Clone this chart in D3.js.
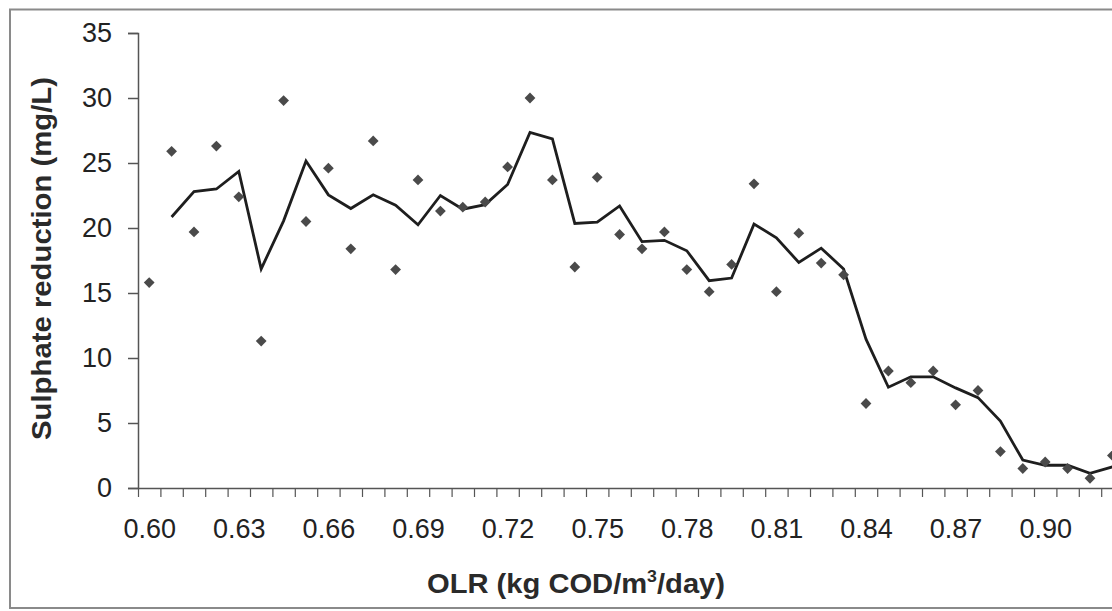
<!DOCTYPE html>
<html>
<head>
<meta charset="utf-8">
<script src="https://cdn.jsdelivr.net/npm/d3@7"></script>
<style>
  html, body { margin: 0; padding: 0; background: #fff; overflow: hidden; }
  svg { display: block; font-family: Arial, "Liberation Sans", sans-serif; }
</style>
</head>
<body>
<svg id="chart" width="1112" height="611"></svg>
<script>
// Organic loading rate for each sample (kg COD/m3/day)
const olr = [
  0.6000, 0.6075, 0.6150, 0.6225, 0.6300, 0.6375, 0.6450, 0.6525, 0.6600, 0.6675, 0.6750,
  0.6825, 0.6900, 0.6975, 0.7050, 0.7125, 0.7200, 0.7275, 0.7350, 0.7425, 0.7500, 0.7575,
  0.7650, 0.7725, 0.7800, 0.7875, 0.7950, 0.8025, 0.8100, 0.8175, 0.8250, 0.8325, 0.8400,
  0.8475, 0.8550, 0.8625, 0.8700, 0.8775, 0.8850, 0.8925, 0.9000, 0.9075, 0.9150, 0.9225
];

// Measured sulphate reduction (mg/L)
const sulphate = [
  15.8, 25.9, 19.7, 26.3, 22.4, 11.3, 29.8, 20.5, 24.6, 18.4, 26.7,
  16.8, 23.7, 21.3, 21.6, 22.0, 24.7, 30.0, 23.7, 17.0, 23.9, 19.5,
  18.4, 19.7, 16.8, 15.1, 17.2, 23.4, 15.1, 19.6, 17.3, 16.4, 6.5,
  9.0, 8.1, 9.0, 6.4, 7.5, 2.8, 1.5, 2.0, 1.5, 0.75, 2.5
];

// Axis ticks
const yTicks = [0, 5, 10, 15, 20, 25, 30, 35];
const xLabelEvery = 4;

// 2-period moving average trendline
const trend = sulphate.map((v, i) => i === 0 ? null : { i, v: d3.mean([sulphate[i - 1], v]) })
                      .filter(d => d);

const svg = d3.select("#chart");

// Chart area border (continues past the right edge)
svg.append("rect")
  .attr("x", 10).attr("y", 9.5)
  .attr("width", 1200).attr("height", 598.5)
  .attr("fill", "none").attr("stroke", "#8a8a8a").attr("stroke-width", 2);

const plotLeft = 138, plotTop = 33, plotBottom = 488, step = 22.4;
const n = sulphate.length;

const x = d3.scaleLinear().domain([-0.5, n - 0.5]).range([plotLeft, plotLeft + n * step]);
const y = d3.scaleLinear().domain([0, 35]).range([plotBottom, plotTop]);

// Y axis
const yAxis = svg.append("g")
  .attr("transform", `translate(${plotLeft},0)`)
  .call(d3.axisLeft(y).tickValues(yTicks).tickSize(10).tickPadding(16).tickFormat(d3.format("d")));
yAxis.select(".domain").attr("stroke", "#555").attr("stroke-width", 1.5);
yAxis.selectAll(".tick line").attr("stroke", "#555").attr("stroke-width", 1.5);
yAxis.selectAll(".tick text")
  .attr("font-size", 27).attr("fill", "#222")
  .attr("font-family", "Arial, 'Liberation Sans', sans-serif");

// X axis: tick marks between categories
const boundaries = d3.range(n + 1).map(i => i - 0.5);
const xAxis = svg.append("g")
  .attr("transform", `translate(0,${plotBottom})`)
  .call(d3.axisBottom(x).tickValues(boundaries).tickSize(9).tickSizeOuter(0).tickFormat(""));
xAxis.select(".domain").attr("stroke", "#555").attr("stroke-width", 1.5);
xAxis.selectAll(".tick line").attr("stroke", "#555").attr("stroke-width", 1.2);

// X axis labels on every fourth category
const labelIdx = d3.range(0, n, xLabelEvery);
const xLab = svg.append("g")
  .attr("transform", `translate(0,${plotBottom})`)
  .call(d3.axisBottom(x).tickValues(labelIdx).tickSize(0).tickPadding(31)
        .tickFormat(i => olr[i].toFixed(2)));
xLab.select(".domain").remove();
xLab.selectAll(".tick text")
  .attr("font-size", 27).attr("fill", "#222")
  .attr("font-family", "Arial, 'Liberation Sans', sans-serif");

// Trendline
const line = d3.line().x(d => x(d.i)).y(d => y(d.v));
svg.append("path")
  .datum(trend)
  .attr("d", line)
  .attr("fill", "none")
  .attr("stroke", "#1e1e1e")
  .attr("stroke-width", 2.8)
  .attr("stroke-linejoin", "miter");

// Data points (diamonds)
const diamond = d3.symbol().type(d3.symbolSquare).size(58);
svg.append("g").selectAll("path")
  .data(sulphate)
  .join("path")
  .attr("d", diamond)
  .attr("transform", (d, i) => `translate(${x(i)},${y(d)}) rotate(45)`)
  .attr("fill", "#4a4a4a");

// Axis titles
svg.append("text")
  .attr("x", 576).attr("y", 593)
  .attr("text-anchor", "middle")
  .attr("font-size", 28).attr("font-weight", "bold").attr("fill", "#2a2a2a")
  .attr("textLength", 298).attr("lengthAdjust", "spacingAndGlyphs")
  .html('OLR (kg COD/m<tspan dy="-11" font-size="17">3</tspan><tspan dy="11">/day)</tspan>');

svg.append("text")
  .attr("transform", "translate(51,258.5) rotate(-90)")
  .attr("text-anchor", "middle")
  .attr("font-size", 28).attr("font-weight", "bold").attr("fill", "#2a2a2a")
  .attr("textLength", 363).attr("lengthAdjust", "spacingAndGlyphs")
  .text("Sulphate reduction (mg/L)");
</script>
</body>
</html>
